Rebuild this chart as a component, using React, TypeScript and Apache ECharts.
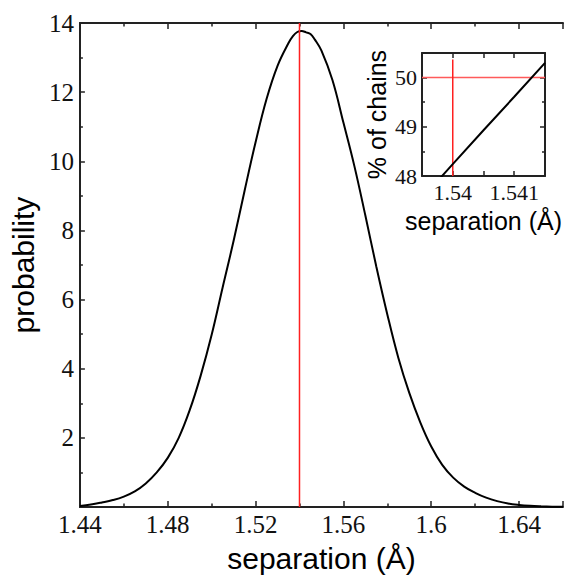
import React, { useEffect, useRef } from "react";
import * as echarts from "echarts";

// Main distribution: separation (Å) vs probability density
const separation = [
  1.44, 1.445, 1.45, 1.455, 1.46, 1.465, 1.47, 1.475, 1.48, 1.485, 1.49, 1.495,
  1.5, 1.505, 1.51, 1.515, 1.52, 1.525, 1.53, 1.535, 1.537, 1.539, 1.541, 1.543,
  1.545, 1.547, 1.55, 1.555, 1.56, 1.565, 1.57, 1.575, 1.58, 1.585, 1.59, 1.595,
  1.6, 1.605, 1.61, 1.615, 1.62, 1.625, 1.63, 1.635, 1.64, 1.645, 1.65, 1.655, 1.66,
];
const probability = [
  0.03, 0.07, 0.13, 0.2, 0.3, 0.45, 0.68, 1.0, 1.42, 2.0, 2.8, 3.8,
  4.98, 6.35, 7.7, 9.15, 10.55, 11.8, 12.76, 13.42, 13.62, 13.74, 13.77, 13.73,
  13.68, 13.52, 13.2, 12.35, 11.12, 9.86, 8.43, 6.95, 5.57, 4.32, 3.3, 2.45,
  1.75, 1.22, 0.85, 0.59, 0.41, 0.27, 0.17, 0.1, 0.06, 0.035, 0.02, 0.01, 0.005,
];
const medianSeparation = 1.54;

// Inset: cumulative % of chains around the median
const insetSeparation = [1.5395, 1.54, 1.5405, 1.541, 1.5415];
const insetPercent = [47.55, 48.24, 48.93, 49.61, 50.3];
const insetMedianPercent = 50;
const insetMedianLineTop = 50.37;

const mainXTicks = [1.44, 1.48, 1.52, 1.56, 1.6, 1.64];
const insetXTicks = [1.54, 1.541];

const serif = "Liberation Serif";
const sans = "Liberation Sans";

export default function App() {
  const ref = useRef<HTMLDivElement>(null);

  useEffect(() => {
    if (!ref.current) return;
    const chart = echarts.init(ref.current, null, { renderer: "svg" });

    const axisLineStyle = { color: "#222", width: 2 };
    const tickStyle = { color: "#222", width: 1.5 };
    const fmtMainX = (v: number) => {
      const hit = mainXTicks.find((t) => Math.abs(t - v) < 1e-6);
      return hit !== undefined ? String(hit) : "";
    };
    const fmtInsetX = (v: number) => {
      const hit = insetXTicks.find((t) => Math.abs(t - v) < 1e-7);
      return hit !== undefined ? String(hit) : "";
    };

    const option: any = {
      animation: false,
      backgroundColor: "#fff",
      grid: [
        { left: 77, top: 23, width: 493, height: 492 },
        { left: 422, top: 53, width: 123, height: 123 },
      ],
      xAxis: [
        {
          type: "value",
          gridIndex: 0,
          position: "bottom",
          min: 1.44,
          max: 1.66,
          interval: 0.04,
          axisLine: { show: true, onZero: false, lineStyle: axisLineStyle },
          axisTick: { show: true, inside: true, length: 6, lineStyle: tickStyle },
          minorTick: { show: true, splitNumber: 2, length: 3.5, lineStyle: tickStyle },
          splitLine: { show: false },
          axisLabel: { fontFamily: serif, fontSize: 25, color: "#111", margin: 5, formatter: fmtMainX },
          name: "separation (Å)",
          nameLocation: "middle",
          nameGap: 36,
          nameTextStyle: { fontFamily: sans, fontSize: 30, color: "#000" },
        },
        {
          type: "value",
          gridIndex: 0,
          position: "top",
          min: 1.44,
          max: 1.66,
          interval: 0.04,
          axisLine: { show: true, onZero: false, lineStyle: axisLineStyle },
          axisTick: { show: true, inside: true, length: 6, lineStyle: tickStyle },
          minorTick: { show: true, splitNumber: 2, length: 3.5, lineStyle: tickStyle },
          splitLine: { show: false },
          axisLabel: { show: false },
        },
        {
          type: "value",
          gridIndex: 1,
          position: "bottom",
          min: 1.5395,
          max: 1.5415,
          interval: 0.0005,
          axisLine: { show: true, onZero: false, lineStyle: axisLineStyle },
          axisTick: { show: true, inside: true, length: 5, lineStyle: tickStyle },
          splitLine: { show: false },
          axisLabel: { fontFamily: serif, fontSize: 22, color: "#111", margin: 5, formatter: fmtInsetX, showMinLabel: false, showMaxLabel: false },
          name: "separation (Å)",
          nameLocation: "middle",
          nameGap: 32,
          nameTextStyle: { fontFamily: sans, fontSize: 25, color: "#000" },
        },
        {
          type: "value",
          gridIndex: 1,
          position: "top",
          min: 1.5395,
          max: 1.5415,
          interval: 0.0005,
          axisLine: { show: true, onZero: false, lineStyle: axisLineStyle },
          axisTick: { show: true, inside: true, length: 5, lineStyle: tickStyle },
          splitLine: { show: false },
          axisLabel: { show: false },
        },
      ],
      yAxis: [
        {
          type: "value",
          gridIndex: 0,
          position: "left",
          min: 0,
          max: 14,
          interval: 2,
          axisLine: { show: true, onZero: false, lineStyle: axisLineStyle },
          axisTick: { show: true, inside: true, length: 5, lineStyle: tickStyle },
          minorTick: { show: true, splitNumber: 2, length: 3, lineStyle: tickStyle },
          splitLine: { show: false },
          axisLabel: {
            fontFamily: serif,
            fontSize: 25,
            color: "#111",
            margin: 6,
            formatter: (v: number) => (v === 0 ? "" : String(v)),
          },
          name: "probability",
          nameLocation: "middle",
          nameGap: 38,
          nameTextStyle: { fontFamily: sans, fontSize: 30, color: "#000" },
        },
        {
          type: "value",
          gridIndex: 1,
          position: "left",
          min: 48,
          max: 50.5,
          interval: 1,
          axisLine: { show: true, onZero: false, lineStyle: axisLineStyle },
          axisTick: { show: true, inside: true, length: 5, lineStyle: tickStyle },
          minorTick: { show: true, splitNumber: 2, length: 3, lineStyle: tickStyle },
          splitLine: { show: false },
          axisLabel: { fontFamily: serif, fontSize: 22, color: "#111", margin: 5, showMaxLabel: false },
          name: "% of chains",
          nameLocation: "middle",
          nameGap: 33,
          nameTextStyle: { fontFamily: sans, fontSize: 25, color: "#000" },
        },
        {
          type: "value",
          gridIndex: 1,
          position: "right",
          min: 48,
          max: 50.5,
          interval: 1,
          axisLine: { show: true, onZero: false, lineStyle: axisLineStyle },
          axisTick: { show: true, inside: true, length: 5, lineStyle: tickStyle },
          minorTick: { show: true, splitNumber: 2, length: 3, lineStyle: tickStyle },
          splitLine: { show: false },
          axisLabel: { show: false },
        },
      ],
      series: [
        {
          type: "line",
          xAxisIndex: 0,
          yAxisIndex: 0,
          data: separation.map((x, i) => [x, probability[i]]),
          showSymbol: false,
          smooth: 0.4,
          lineStyle: { color: "#000", width: 2 },
          z: 3,
        },
        {
          type: "line",
          xAxisIndex: 0,
          yAxisIndex: 0,
          data: [
            [medianSeparation, 0],
            [medianSeparation, 14],
          ],
          showSymbol: false,
          lineStyle: { color: "#ff2020", width: 1.5 },
          z: 4,
        },
        {
          type: "line",
          xAxisIndex: 2,
          yAxisIndex: 1,
          data: [
            [insetSeparation[0], insetMedianPercent],
            [insetSeparation[insetSeparation.length - 1], insetMedianPercent],
          ],
          showSymbol: false,
          lineStyle: { color: "#ff5a5a", width: 1.5 },
          z: 3,
        },
        {
          type: "line",
          xAxisIndex: 2,
          yAxisIndex: 1,
          data: [
            [medianSeparation, 48],
            [medianSeparation, insetMedianLineTop],
          ],
          showSymbol: false,
          lineStyle: { color: "#ff2020", width: 1.5 },
          z: 3,
        },
        {
          type: "line",
          xAxisIndex: 2,
          yAxisIndex: 1,
          data: insetSeparation.map((x, i) => [x, insetPercent[i]]),
          showSymbol: false,
          clip: true,
          lineStyle: { color: "#000", width: 2 },
          z: 4,
        },
      ],
    };

    chart.setOption(option);
    return () => chart.dispose();
  }, []);

  return (
    <div
      ref={ref}
      style={{ position: "fixed", left: 0, top: 0, width: 566, height: 578, background: "#fff" }}
    />
  );
}
